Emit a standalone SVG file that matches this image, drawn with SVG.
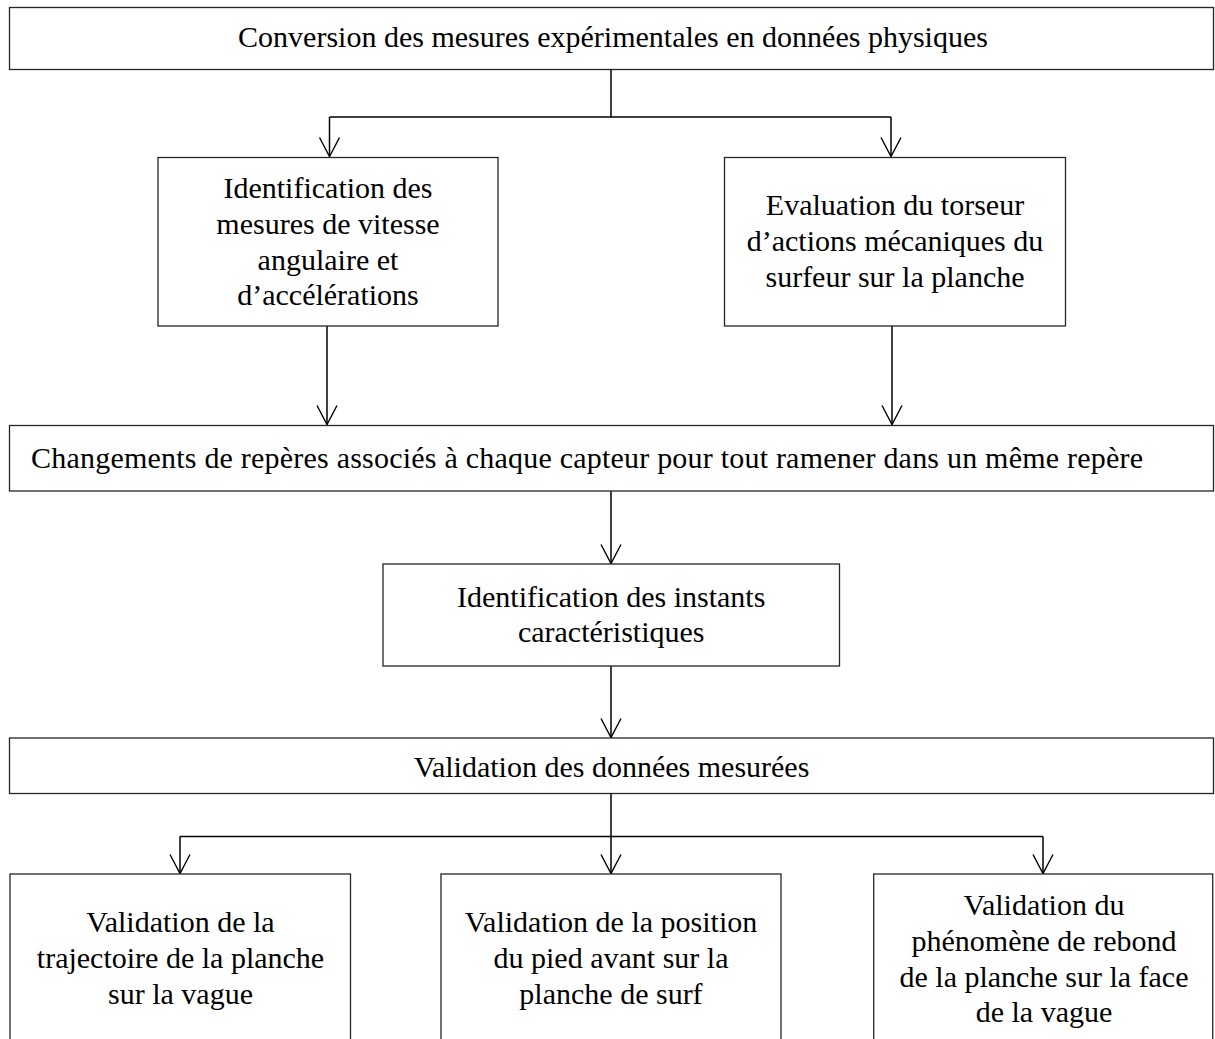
<svg xmlns="http://www.w3.org/2000/svg" width="1215" height="1039" viewBox="0 0 1215 1039">
<defs>
<marker id="arr" viewBox="-21 -12 24 24" refX="0" refY="0" markerWidth="24" markerHeight="24" markerUnits="userSpaceOnUse" orient="auto" overflow="visible">
<path d="M -19 -10 L 0 0 L -19 10" fill="none" stroke="#000" stroke-width="1.4"/>
</marker>
</defs>
<style>
.box{fill:#fff;stroke:#262626;stroke-width:1.3}
.t{font-family:"Liberation Serif","Times New Roman",serif;font-size:30px;fill:#000;text-anchor:middle}
.c{fill:none;stroke:#000;stroke-width:1.5}
</style>
<rect width="1215" height="1039" fill="#fff"/>
<g id="connectors">
<path class="c" d="M611,69.5 V117 M329.5,117 H891"/>
<path class="c" d="M329.5,117 V156.5" marker-end="url(#arr)"/>
<path class="c" d="M891,117 V156.5" marker-end="url(#arr)"/>
<path class="c" d="M327,326 V424.5" marker-end="url(#arr)"/>
<path class="c" d="M892,326 V424.5" marker-end="url(#arr)"/>
<path class="c" d="M611,491 V563.5" marker-end="url(#arr)"/>
<path class="c" d="M611,666 V737.5" marker-end="url(#arr)"/>
<path class="c" d="M611,793.5 V836.5 M180,836.5 H1043"/>
<path class="c" d="M180,836.5 V873.5" marker-end="url(#arr)"/>
<path class="c" d="M611,836.5 V873.5" marker-end="url(#arr)"/>
<path class="c" d="M1043,836.5 V873.5" marker-end="url(#arr)"/>
</g>
<g id="n1">
<rect class="box" x="9.5" y="7.5" width="1204" height="62"/>
<text class="t" x="613" y="46.7">Conversion des mesures expérimentales en données physiques</text>
</g>
<g id="n2">
<rect class="box" x="158" y="157.5" width="340" height="168.5"/>
<text class="t" x="328" y="198.3">Identification des</text>
<text class="t" x="328" y="233.8">mesures de vitesse</text>
<text class="t" x="328" y="269.6">angulaire et</text>
<text class="t" x="328" y="305.2">d’accélérations</text>
</g>
<g id="n3">
<rect class="box" x="724.5" y="157.5" width="341" height="168.5"/>
<text class="t" x="895" y="215">Evaluation du torseur</text>
<text class="t" x="895" y="250.5">d’actions mécaniques du</text>
<text class="t" x="895" y="286.5">surfeur sur la planche</text>
</g>
<g id="n4">
<rect class="box" x="9.5" y="425.5" width="1204" height="65.5"/>
<text class="t" x="31" y="468" style="text-anchor:start" textLength="1112" lengthAdjust="spacing">Changements de repères associés à chaque capteur pour tout ramener dans un même repère</text>
</g>
<g id="n5">
<rect class="box" x="383" y="564" width="456.5" height="102"/>
<text class="t" x="611.2" y="606.7">Identification des instants</text>
<text class="t" x="611.2" y="641.7">caractéristiques</text>
</g>
<g id="n6">
<rect class="box" x="9.5" y="738" width="1204" height="55.5"/>
<text class="t" x="611.5" y="776.7">Validation des données mesurées</text>
</g>
<g id="n7">
<rect class="box" x="10" y="874" width="340.5" height="200"/>
<text class="t" x="180.5" y="931.7">Validation de la</text>
<text class="t" x="180.5" y="967.8">trajectoire de la planche</text>
<text class="t" x="180.5" y="1004">sur la vague</text>
</g>
<g id="n8">
<rect class="box" x="441" y="874" width="340" height="200"/>
<text class="t" x="611" y="931.7">Validation de la position</text>
<text class="t" x="611" y="967.8">du pied avant sur la</text>
<text class="t" x="611" y="1004">planche de surf</text>
</g>
<g id="n9">
<rect class="box" x="873.7" y="874" width="339" height="200"/>
<text class="t" x="1044" y="915">Validation du</text>
<text class="t" x="1044" y="950.5">phénomène de rebond</text>
<text class="t" x="1044" y="986.5">de la planche sur la face</text>
<text class="t" x="1044" y="1022">de la vague</text>
</g>
</svg>
